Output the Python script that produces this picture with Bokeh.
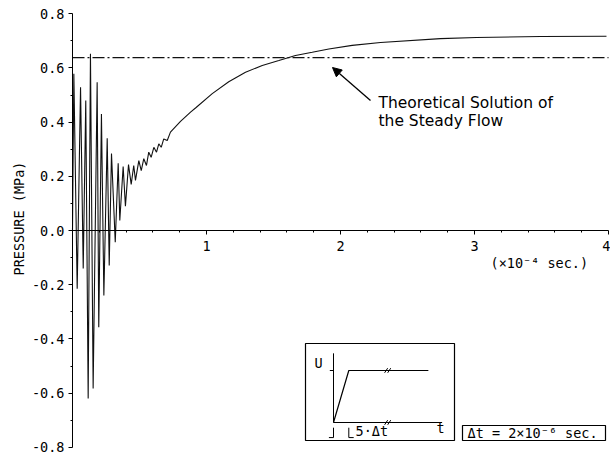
import math
from bokeh.plotting import figure
from bokeh.models import (LinearAxis, FixedTicker, PrintfTickFormatter, Label, Arrow,
                          NormalHead, Range1d, BoxAnnotation)
from bokeh.embed import file_html
from bokeh.resources import INLINE

# ---------------- data ----------------
# time in units of 1e-4 s, pressure in MPa
osc_t = [0.0, 0.010, 0.035, 0.060, 0.080, 0.099, 0.117, 0.134, 0.154, 0.184, 0.196,
         0.216, 0.234, 0.259, 0.274, 0.291, 0.319, 0.341, 0.353, 0.378, 0.395, 0.418,
         0.438, 0.457, 0.470, 0.495, 0.513, 0.532, 0.552, 0.569, 0.587, 0.607, 0.627,
         0.644, 0.662, 0.681, 0.707]
osc_p = [0.0, 0.578, -0.215, 0.529, -0.140, 0.480, -0.620, 0.652, -0.583, 0.547, -0.357,
         0.430, -0.240, 0.340, -0.129, 0.284, -0.043, 0.248, 0.037, 0.236, 0.090, 0.243,
         0.170, 0.240, 0.185, 0.258, 0.221, 0.265, 0.240, 0.289, 0.270, 0.307, 0.289,
         0.320, 0.307, 0.338, 0.332]
rise_t = [0.731, 0.806, 0.881, 0.918, 1.043, 1.166, 1.291, 1.416, 1.540, 1.664, 1.789,
          1.913, 2.087, 2.299, 2.746, 3.015, 3.493, 3.985]
rise_p = [0.363, 0.403, 0.437, 0.452, 0.505, 0.549, 0.584, 0.609, 0.627, 0.646, 0.658,
          0.670, 0.683, 0.694, 0.708, 0.712, 0.716, 0.717]
steady_t = [0.0, 4.0]
steady_p = [0.638, 0.638]

x_ticks = [1, 2, 3, 4]
x_minor = [0.2, 0.4, 0.6, 0.8, 1.2, 1.4, 1.6, 1.8, 2.2, 2.4, 2.6, 2.8, 3.2, 3.4, 3.6, 3.8]
y_ticks = [-0.8, -0.6, -0.4, -0.2, 0.0, 0.2, 0.4, 0.6, 0.8]
y_minor = [-0.7, -0.5, -0.3, -0.1, 0.1, 0.3, 0.5, 0.7]

# inset schematic: inflow velocity ramp (t in units of dt, U normalised)
ramp_t = [0, 5, 31]
ramp_u = [0, 1, 1]

MONO = "DejaVu Sans Mono"
SANS = "DejaVu Sans"
MSIZE = "13.5px"

# ---------------- figure ----------------
XS, X0 = 134.0, 72.0     # px per unit, px of t=0
YS, Y0 = 271.0, 230.0    # px per MPa, px (from top) of p=0
W, H = 610, 454

p = figure(width=W, height=H, output_backend="svg", toolbar_location=None,
           x_range=Range1d(-X0 / XS, (W - X0) / XS),
           y_range=Range1d(-(H - Y0) / YS, Y0 / YS),
           x_axis_type=None, y_axis_type=None, min_border=0)
p.outline_line_color = None
p.background_fill_color = "white"
p.border_fill_color = "white"

xaxis = LinearAxis(fixed_location=0, bounds=(0, 4),
                   ticker=FixedTicker(ticks=x_ticks, minor_ticks=x_minor),
                   formatter=PrintfTickFormatter(format="%d"))
yaxis = LinearAxis(fixed_location=0, bounds=(-0.8, 0.8),
                   ticker=FixedTicker(ticks=y_ticks, minor_ticks=y_minor),
                   formatter=PrintfTickFormatter(format="%.1f"))
for ax in (xaxis, yaxis):
    ax.major_label_text_font = MONO
    ax.major_label_text_font_size = MSIZE
    ax.major_label_text_color = "black"
    ax.major_tick_out = 4
    ax.major_tick_in = 0
    ax.minor_tick_out = 2
    ax.minor_tick_in = 0
    ax.axis_line_color = "black"
    ax.major_tick_line_color = "black"
    ax.minor_tick_line_color = "black"
xaxis.major_label_standoff = 6
yaxis.major_label_standoff = 4
p.add_layout(xaxis, "below")
p.add_layout(yaxis, "left")

# curves
p.line(osc_t + rise_t, osc_p + rise_p, line_color="#111111", line_width=1.1)
p.line(steady_t, steady_p, line_color="#111111", line_width=1.1, line_dash="12 3 2 3")

# axis texts
p.add_layout(Label(x=-54 / XS, y=12 / YS, text="PRESSURE (MPa)", angle=math.pi / 2,
                   text_align="center", text_baseline="middle",
                   text_font=MONO, text_font_size=MSIZE, text_color="black"))
p.add_layout(Label(x=(490 - X0) / XS, y=-(262 - Y0) / YS, text="(×10⁻⁴ sec.)",
                   text_align="left", text_baseline="middle",
                   text_font=MONO, text_font_size=MSIZE, text_color="black"))

# annotation
p.add_layout(Arrow(end=NormalHead(size=9, fill_color="black", line_color="black"),
                   x_start=(370 - X0) / XS, y_start=(Y0 - 100) / YS,
                   x_end=(332 - X0) / XS, y_end=(Y0 - 67) / YS,
                   line_color="black", line_width=1.3))
for txt, py in [("Theoretical Solution of", 102), ("the Steady Flow", 120)]:
    p.add_layout(Label(x=(378 - X0) / XS, y=(Y0 - py) / YS, text=txt,
                       text_align="left", text_baseline="middle",
                       text_font=SANS, text_font_size="15.5px", text_color="black"))

# ---------------- inset ----------------
p.add_layout(BoxAnnotation(left=(305 - X0) / XS, right=(454 - X0) / XS,
                           top=(Y0 - 343) / YS, bottom=(Y0 - 440) / YS,
                           fill_alpha=0, line_color="black", line_alpha=1, line_width=1.2))
IX0, IY0 = (333 - X0) / XS, (Y0 - 422) / YS
ISX, ISY = 3.06 / XS, 52.0 / YS


def ix(t):
    return IX0 + ISX * t


def iy(u):
    return IY0 + ISY * u


p.line([ix(t) for t in ramp_t], [iy(u) for u in ramp_u], line_color="black", line_width=1.2)
p.line([ix(0), ix(0)], [iy(0), iy(1.33)], line_color="black", line_width=1)
p.line([ix(0), ix(35.5)], [iy(0), iy(0)], line_color="black", line_width=1)
p.line([ix(-1.2), ix(0)], [iy(1), iy(1)], line_color="black", line_width=1)
p.line([ix(-1.5), ix(0), ix(0)], [iy(-0.29), iy(-0.29), iy(-0.1)], line_color="black", line_width=1)
p.line([ix(5), ix(5), ix(6.6)], [iy(-0.1), iy(-0.29), iy(-0.29)], line_color="black", line_width=1)
# break marks "//" on the plateau and on the t axis
for u in (0, 1):
    for dt in (-0.5, 0.5):
        p.segment(x0=[ix(17.2 + dt)], y0=[iy(u - 0.045)], x1=[ix(18.2 + dt)], y1=[iy(u + 0.045)],
                  line_color="black", line_width=1)
p.add_layout(Label(x=ix(-4.9), y=iy(1.15), text="U", text_align="center", text_baseline="middle",
                   text_font=MONO, text_font_size=MSIZE, text_color="black"))
p.add_layout(Label(x=ix(35), y=iy(-0.115), text="t", text_align="center", text_baseline="middle",
                   text_font=MONO, text_font_size=MSIZE, text_color="black"))
p.add_layout(Label(x=ix(7.2), y=iy(-0.17), text="5·Δt", text_align="left", text_baseline="middle",
                   text_font=MONO, text_font_size=MSIZE, text_color="black"))

# dt box
p.add_layout(BoxAnnotation(left=(462 - X0) / XS, right=(605 - X0) / XS,
                           top=(Y0 - 425) / YS, bottom=(Y0 - 440) / YS,
                           fill_alpha=0, line_color="black", line_alpha=1, line_width=1.2))
p.add_layout(Label(x=(467 - X0) / XS, y=(Y0 - 432.5) / YS, text="Δt = 2×10⁻⁶ sec.",
                   text_align="left", text_baseline="middle",
                   text_font=MONO, text_font_size=MSIZE, text_color="black"))

open("out.html", "w").write(file_html(p, INLINE))
